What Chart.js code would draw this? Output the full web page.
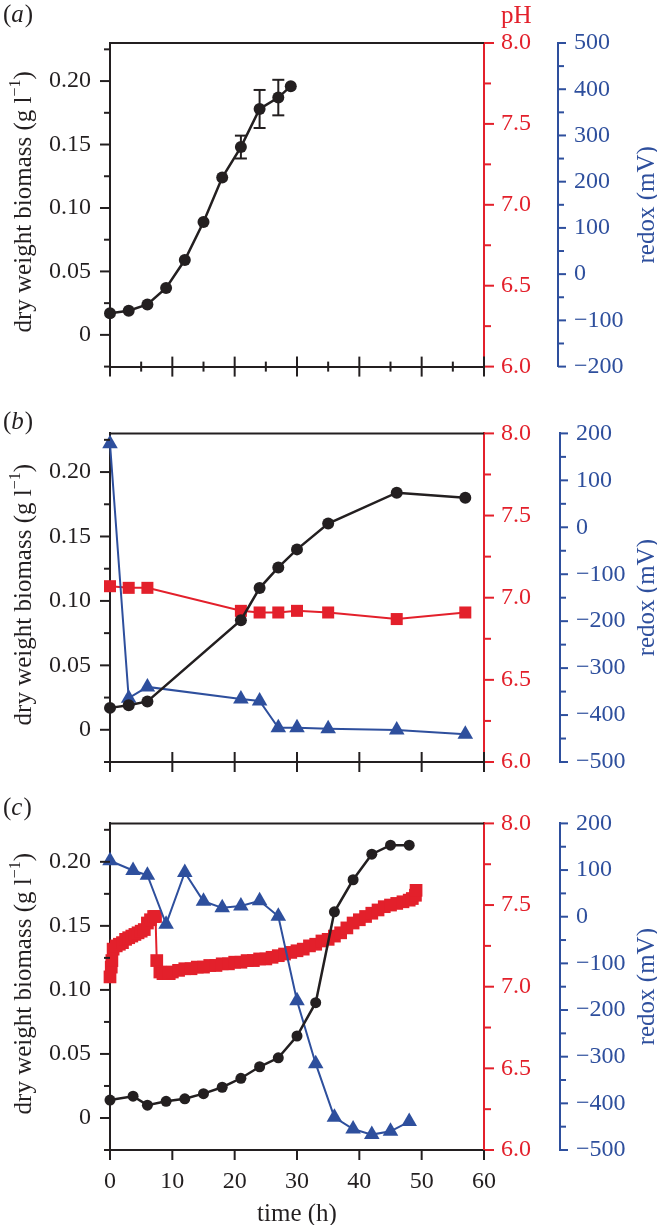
<!DOCTYPE html>
<html>
<head>
<meta charset="utf-8">
<script src="https://cdn.jsdelivr.net/npm/chart.js@4.4.1/dist/chart.umd.min.js"></script>
<style>
  body { margin: 0; background: #fff; }
  .panel { position: absolute; left: 0; }
</style>
</head>
<body>
<div class="panel" style="top:0px"><canvas id="chart-a" width="657" height="400"></canvas></div>
<div class="panel" style="top:400px"><canvas id="chart-b" width="657" height="400"></canvas></div>
<div class="panel" style="top:790px"><canvas id="chart-c" width="657" height="435"></canvas></div>
<script>
// ---- data ----
// (a) biomass only, with error bars
const timeA = [0, 3, 6, 9, 12, 15, 18, 21, 24, 27, 29];
const biomassA = [0.017, 0.019, 0.024, 0.037, 0.059, 0.089, 0.124, 0.148, 0.178, 0.187, 0.196];
const biomassErrA = [0, 0, 0, 0, 0, 0, 0, 0.009, 0.015, 0.014, 0];

// (b)
const timeB = [0, 3, 6, 21, 24, 27, 30, 35, 46, 57];
const biomassB = [0.017, 0.019, 0.022, 0.085, 0.110, 0.126, 0.140, 0.160, 0.184, 0.180];
const phB = [7.07, 7.06, 7.06, 6.92, 6.91, 6.91, 6.92, 6.91, 6.87, 6.91];
const redoxB = [178, -364, -340, -366, -370, -427, -427, -429, -432, -441];

// (c)
const timeC = [0, 3.7, 6, 9, 12, 15, 18, 21, 24, 27, 30, 33, 36, 39, 42, 45, 48];
const biomassC = [0.014, 0.017, 0.010, 0.013, 0.015, 0.019, 0.024, 0.031, 0.040, 0.047, 0.064, 0.090, 0.161, 0.186, 0.206, 0.213, 0.213];
const redoxC = [120, 99, 89, -16, 95, 33, 19, 23, 34, 1, -180, -315, -430, -455, -467, -460, -439];
const phTimeC = [0, 0.2, 0.3, 0.5, 1, 1.5, 2, 2.5, 3, 3.5, 4, 4.5, 5, 5.5, 6, 6.5, 7, 7.3,
  7.5, 8, 8.5, 9, 9.5, 10, 11, 12, 13, 14, 15, 16, 17, 18, 19, 20, 21, 22, 23, 24, 25, 26, 27, 28, 29,
  30, 31, 32, 33, 34, 35, 36, 37, 38, 39, 40, 41, 42, 43, 44, 45, 46, 47, 48, 48.5, 49, 49.1];
const phC = [7.06, 7.12, 7.16, 7.23, 7.25, 7.26, 7.27, 7.29, 7.30, 7.31, 7.32, 7.33, 7.34, 7.35, 7.39, 7.41, 7.43, 7.43,
  7.16, 7.09, 7.08, 7.08, 7.08, 7.09, 7.10, 7.11, 7.11, 7.12, 7.12, 7.13, 7.13, 7.14, 7.14, 7.15, 7.15, 7.16, 7.16, 7.17, 7.17, 7.18, 7.19, 7.20, 7.21,
  7.22, 7.23, 7.25, 7.26, 7.28, 7.29, 7.31, 7.33, 7.36, 7.39, 7.41, 7.43, 7.45, 7.47, 7.49, 7.50, 7.51, 7.52, 7.53, 7.54, 7.56, 7.59];

const BLACK = '#231f20';
const RED = '#e3202b';
const BLUE = '#2e4f9d';
const SERIF = '"Liberation Serif", "Times New Roman", serif';

function pts(xs, ys) {
  return xs.map((x, i) => ({x: x, y: ys[i]}));
}

function stepTicks(min, max, step, majorEvery) {
  // integer steps avoid float drift
  const out = [];
  const n = Math.round((max - min) / step);
  for (let k = 0; k <= n; k++) {
    const v = +(min + k * step).toFixed(4);
    out.push({value: v, major: Math.round((v - min) / step) % majorEvery === 0});
  }
  return out;
}

function line(ctx, x1, y1, x2, y2) {
  ctx.beginPath();
  ctx.moveTo(x1, y1);
  ctx.lineTo(x2, y2);
  ctx.stroke();
}

// ticks, top border, titles, panel letters
const decor = {
  id: 'decor',
  beforeDatasetsDraw(chart, args, opts) {
    const err = opts.errors;
    if (!err) return;
    const ctx = chart.ctx, xs = chart.scales.x, ys = chart.scales.y;
    const data = chart.data.datasets[0].data;
    ctx.save();
    ctx.strokeStyle = BLACK;
    ctx.lineWidth = 2;
    data.forEach((p, i) => {
      if (!err[i]) return;
      const px = xs.getPixelForValue(p.x);
      const y1 = ys.getPixelForValue(p.y + err[i]);
      const y2 = ys.getPixelForValue(p.y - err[i]);
      line(ctx, px, y1, px, y2);
      line(ctx, px - 6, y1, px + 6, y1);
      line(ctx, px - 6, y2, px + 6, y2);
    });
    ctx.restore();
  },
  afterDraw(chart, args, opts) {
    const ctx = chart.ctx, area = chart.chartArea, sc = chart.scales;
    ctx.save();
    ctx.lineWidth = 2;
    ctx.strokeStyle = BLACK;
    line(ctx, area.left - 1, area.top, area.right, area.top);

    // vertical axes
    [['y', BLACK, -1, 10, 6], ['ph', RED, 1, 10, 7], ['rx', BLUE, 1, 8, 6]].forEach(a => {
      const s = sc[a[0]];
      const x0 = a[0] === 'y' ? s.right : s.left;
      ctx.strokeStyle = a[1];
      s.ticks.forEach(t => {
        const py = s.getPixelForValue(t.value);
        line(ctx, x0, py, x0 + a[2] * (t.major ? a[3] : a[4]), py);
      });
    });

    // time axis
    const xs = sc.x;
    ctx.strokeStyle = BLACK;
    xs.ticks.forEach(t => {
      const px = xs.getPixelForValue(t.value);
      const up = t.major ? opts.xUp : opts.xUp / 2;
      const down = t.major ? opts.xDown : opts.xDown / 2;
      line(ctx, px, area.bottom - up, px, area.bottom + down);
    });

    ctx.textBaseline = 'middle';
    // biomass title with superscript
    const ys = sc.y;
    ctx.save();
    ctx.translate(24, (ys.top + ys.bottom) / 2 - 3);
    ctx.rotate(-Math.PI / 2);
    ctx.fillStyle = BLACK;
    const main = 'dry weight biomass (g l';
    ctx.font = '25px ' + SERIF;
    const w1 = ctx.measureText(main).width;
    const w3 = ctx.measureText(')').width;
    ctx.font = '16px ' + SERIF;
    const w2 = ctx.measureText('\u22121').width;
    let x = -(w1 + w2 + w3) / 2;
    ctx.textAlign = 'left';
    ctx.font = '25px ' + SERIF;
    ctx.fillText(main, x, 0);
    x += w1;
    ctx.font = '16px ' + SERIF;
    ctx.fillText('\u22121', x, -8);
    x += w2;
    ctx.font = '25px ' + SERIF;
    ctx.fillText(')', x, 0);
    ctx.restore();

    // redox title
    const rx = sc.rx;
    ctx.save();
    ctx.translate(647, (rx.top + rx.bottom) / 2);
    ctx.rotate(-Math.PI / 2);
    ctx.fillStyle = BLUE;
    ctx.font = '25px ' + SERIF;
    ctx.textAlign = 'center';
    ctx.fillText('redox (mV)', 0, 0);
    ctx.restore();

    if (opts.showPH) {
      ctx.fillStyle = RED;
      ctx.font = '25px ' + SERIF;
      ctx.textAlign = 'left';
      ctx.fillText('pH', 501, 16);
    }
    if (opts.timeTitleY) {
      ctx.fillStyle = BLACK;
      ctx.font = '25px ' + SERIF;
      ctx.textAlign = 'center';
      ctx.fillText('time (h)', (area.left + area.right) / 2, opts.timeTitleY);
    }

    // panel letter: (a) with italic letter
    ctx.fillStyle = BLACK;
    ctx.textAlign = 'left';
    let lx = 3;
    ctx.font = '25px ' + SERIF;
    ctx.fillText('(', lx, opts.letterY);
    lx += ctx.measureText('(').width;
    ctx.font = 'italic 25px ' + SERIF;
    ctx.fillText(opts.letter, lx, opts.letterY);
    lx += ctx.measureText(opts.letter).width + 1;
    ctx.font = '25px ' + SERIF;
    ctx.fillText(')', lx, opts.letterY);
    ctx.restore();
  }
};

function makePanel(id, cfg) {
  const tickFont = {family: SERIF, size: 24};
  const datasets = [];
  datasets.push({
    label: 'biomass', data: pts(cfg.time, cfg.biomass), yAxisID: 'y',
    borderColor: BLACK, backgroundColor: BLACK, borderWidth: 2.5,
    pointStyle: 'circle', pointRadius: cfg.circleR, pointBorderWidth: 0,
    clip: false
  });
  if (cfg.redox) {
    datasets.push({
      label: 'redox', data: pts(cfg.time, cfg.redox), yAxisID: 'rx',
      borderColor: BLUE, backgroundColor: BLUE, borderWidth: 2,
      pointStyle: 'triangle', pointRadius: 9, pointBorderWidth: 0,
      clip: false
    });
  }
  if (cfg.ph) {
    datasets.push({
      label: 'pH', data: pts(cfg.phTime || cfg.time, cfg.ph), yAxisID: 'ph',
      borderColor: RED, backgroundColor: RED, borderWidth: 2,
      pointStyle: 'rect', pointRadius: cfg.rectR, pointBorderWidth: 0,
      clip: false
    });
  }

  return new Chart(document.getElementById(id), {
    type: 'line',
    data: {datasets: datasets},
    options: {
      responsive: false,
      animation: false,
      layout: {padding: {top: cfg.top, left: 0, right: 0, bottom: 0}},
      plugins: {
        legend: {display: false},
        tooltip: {enabled: false},
        decor: cfg.decor
      },
      scales: {
        x: {
          type: 'linear', position: 'bottom', min: 0, max: 60,
          afterBuildTicks: s => { s.ticks = stepTicks(0, 60, cfg.xStep, 10 / cfg.xStep); },
          afterFit: s => { s.height = cfg.xHeight; },
          grid: {display: false, drawTicks: false},
          border: {display: true, color: BLACK, width: 2},
          ticks: {
            display: cfg.xLabels, autoSkip: false, maxRotation: 0, padding: 17,
            color: BLACK, font: tickFont,
            callback: (v, i, t) => t[i].major ? String(v) : ''
          }
        },
        y: {
          type: 'linear', position: 'left', min: -0.025, max: 0.23,
          afterBuildTicks: s => { s.ticks = stepTicks(-0.025, 0.225, 0.025, 2).map(t => ({value: t.value, major: !t.major})); },
          afterFit: s => { s.width = 110; },
          grid: {display: false, drawTicks: false},
          border: {display: true, color: BLACK, width: 2},
          ticks: {
            autoSkip: false, padding: 19, color: BLACK, font: tickFont,
            callback: (v, i, t) => t[i].major ? (v === 0 ? '0' : v.toFixed(2)) : ''
          }
        },
        ph: {
          type: 'linear', position: 'right', min: 6, max: 8,
          afterBuildTicks: s => { s.ticks = stepTicks(6, 8, 0.25, 2); },
          afterFit: s => { s.width = cfg.phWidth; },
          grid: {display: false, drawTicks: false},
          border: {display: true, color: RED, width: 2},
          ticks: {
            autoSkip: false, padding: 17, color: RED, font: tickFont,
            callback: (v, i, t) => t[i].major ? v.toFixed(1) : ''
          }
        },
        rx: {
          type: 'linear', position: 'right', min: cfg.rxMin, max: cfg.rxMin + 700,
          afterBuildTicks: s => { s.ticks = stepTicks(cfg.rxMin, cfg.rxMin + 700, 50, 2); },
          afterFit: s => { s.width = 657 - 484 - cfg.phWidth; },
          grid: {display: false, drawTicks: false},
          border: {display: true, color: BLUE, width: 2},
          ticks: {
            autoSkip: false, padding: 16, color: BLUE, font: tickFont,
            callback: (v, i, t) => t[i].major ? (v < 0 ? '\u2212' + Math.abs(v) : String(v)) : ''
          }
        }
      }
    },
    plugins: [decor]
  });
}

makePanel('chart-a', {
  time: timeA, biomass: biomassA, circleR: 6,
  top: 43, xHeight: 22, xStep: 5, xLabels: false, phWidth: 74, rxMin: -200,
  decor: {errors: biomassErrA, xUp: 10, xDown: 10, showPH: true, letter: 'a', letterY: 15}
});

makePanel('chart-b', {
  time: timeB, biomass: biomassB, ph: phB, redox: redoxB, circleR: 6, rectR: 8.5,
  top: 25, xHeight: 38, xStep: 10, xLabels: false, phWidth: 76, rxMin: -500,
  decor: {xUp: 10, xDown: 10, letter: 'b', letterY: 22}
});

makePanel('chart-c', {
  time: timeC, biomass: biomassC, ph: phC, phTime: phTimeC, redox: redoxC, circleR: 5.5, rectR: 9,
  top: 24, xHeight: 75, xStep: 10, xLabels: true, phWidth: 76, rxMin: -500,
  decor: {xUp: 0, xDown: 10, letter: 'c', letterY: 18, timeTitleY: 424}
});
</script>
</body>
</html>
